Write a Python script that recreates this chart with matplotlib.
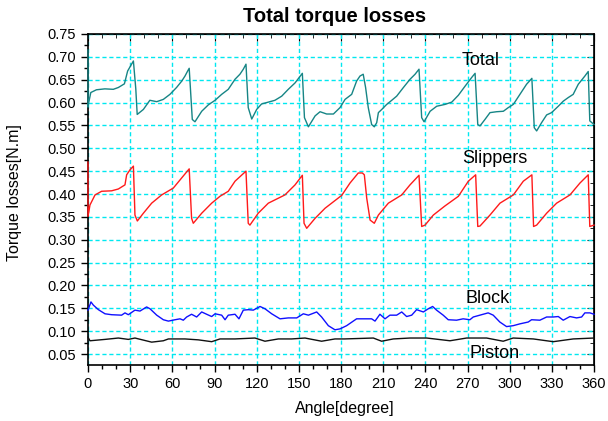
import matplotlib
matplotlib.use("Agg")
import matplotlib.pyplot as plt
from matplotlib.ticker import MultipleLocator
import numpy as np

plt.rcParams['font.family'] = ['Liberation Sans', 'DejaVu Sans']

# ---- data ----
total_angle = [0, 0.01, 0.5, 2, 6, 12, 18, 21.6, 25.9, 28.2, 32.3, 34, 35, 39.4, 44, 48.9, 53.6, 58.3,
               63, 66.7, 69, 70.9, 72, 74.2, 76.1, 80.9, 85.6, 90.4, 95.1, 99.8, 104.6, 108.1, 110.5,
               112.4, 114, 116.5, 120, 123.5, 128.3, 133, 137.8, 142.5, 147.3, 152.5, 154, 156.8,
               161.6, 165.1, 169.8, 174.6, 179.3, 182.9, 187.6, 191.1, 193.5, 195.8, 197.5, 199.4,
               201.8, 203.7, 205.4, 206.6, 209, 212.5, 216.1, 219.6, 224.4, 229.1, 232.7, 235.5,
               237.4, 239.1, 243.4, 248.1, 254, 258.8, 263.5, 268.3, 273, 275.4, 277.3, 278.9,
               282.4, 286, 290.7, 295.5, 299, 302.6, 307.3, 312, 315.8, 317.5, 319.2, 322.7, 326.3,
               329.8, 334.6, 338.1, 341.7, 345.2, 348.8, 353.5, 355.9, 357, 360]
total_val = [0.715, 0.59, 0.60, 0.622, 0.628, 0.630, 0.629, 0.633, 0.641, 0.669, 0.691, 0.63, 0.574,
             0.585, 0.605, 0.602, 0.607, 0.618, 0.633, 0.647, 0.658, 0.669, 0.675, 0.563, 0.558,
             0.581, 0.595, 0.605, 0.618, 0.629, 0.651, 0.662, 0.673, 0.684, 0.589, 0.564, 0.585,
             0.597, 0.601, 0.605, 0.614, 0.629, 0.643, 0.664, 0.567, 0.547, 0.571, 0.580, 0.575,
             0.575, 0.589, 0.607, 0.618, 0.647, 0.658, 0.662, 0.633, 0.589, 0.552, 0.547, 0.556,
             0.578, 0.585, 0.596, 0.605, 0.614, 0.633, 0.651, 0.662, 0.673, 0.567, 0.558, 0.581,
             0.592, 0.596, 0.601, 0.616, 0.636, 0.655, 0.664, 0.552, 0.549, 0.563, 0.578, 0.580,
             0.581, 0.589, 0.596, 0.618, 0.640, 0.653, 0.545, 0.538, 0.556, 0.573, 0.578, 0.592,
             0.603, 0.611, 0.618, 0.640, 0.658, 0.668, 0.560, 0.552]

slip_angle = [0, 0.01, 1.4, 5, 9.7, 16.8, 21.6, 26.3, 27.5, 29.9, 32.3, 33.4, 35.1, 39.4, 45.3, 52.4,
              60.7, 66.6, 72, 73.7, 74.9, 80.9, 88, 93.9, 99.8, 104.6, 112.4, 114, 115.2, 121.1,
              128.3, 140.1, 147.3, 152.5, 153.7, 155.6, 161.6, 168.7, 180.5, 186.4, 192.3, 195.2,
              196.6, 198.3, 200.7, 203.7, 206.6, 213.7, 223.2, 229.1, 235.5, 237.4, 239.8, 245.7,
              254, 263.5, 270.6, 275.8, 277.3, 278.9, 286, 293.1, 302.6, 309.7, 315.8, 317,
              319.2, 326.3, 333.4, 342.9, 350, 355.9, 357, 360]
slip_val = [0.470, 0.351, 0.376, 0.398, 0.406, 0.407, 0.411, 0.420, 0.442, 0.453, 0.461, 0.354,
            0.341, 0.358, 0.380, 0.398, 0.413, 0.435, 0.455, 0.347, 0.336, 0.358, 0.380, 0.395,
            0.406, 0.428, 0.450, 0.336, 0.332, 0.358, 0.380, 0.398, 0.420, 0.441, 0.336, 0.325,
            0.347, 0.369, 0.397, 0.424, 0.446, 0.446, 0.442, 0.391, 0.343, 0.336, 0.354, 0.380,
            0.398, 0.420, 0.441, 0.329, 0.332, 0.354, 0.374, 0.395, 0.428, 0.442, 0.329, 0.330,
            0.354, 0.380, 0.398, 0.428, 0.442, 0.329, 0.332, 0.358, 0.380, 0.398, 0.424, 0.442,
            0.329, 0.332]

block_angle = [0, 2.1, 3.8, 7.4, 12.1, 16.8, 23.9, 26.3, 28.7, 33.4, 37, 41.7, 44.1, 48.9, 53.6,
               57.2, 61.9, 65.5, 67.8, 70.2, 73.7, 77.3, 80.9, 84.4, 88, 90.4, 95.1, 97.5, 99.8,
               104.6, 107.4, 110.5, 114.1, 117.6, 122.4, 125.9, 130.7, 136.6, 142.5, 148.5, 153.2,
               156.8, 162.7, 166.2, 171, 175.7, 179.3, 184, 191.1, 201.8, 204.2, 207.7, 211.3,
               214.8, 219.6, 223.2, 226.7, 230.3, 233.8, 238.6, 242.1, 245.2, 248, 252.7, 256.3,
               262.2, 266.9, 271.7, 274.1, 278.8, 284.7, 288.3, 293, 297.8, 302.5, 307.3, 313.2,
               315.6, 321.5, 326.3, 331, 334.6, 338.1, 342.9, 347.6, 351.2, 353.5, 357.1, 360]
block_val = [0.146, 0.164, 0.157, 0.147, 0.138, 0.136, 0.135, 0.140, 0.136, 0.146, 0.144, 0.153,
             0.149, 0.135, 0.125, 0.122, 0.125, 0.127, 0.124, 0.131, 0.137, 0.131, 0.142, 0.137,
             0.132, 0.138, 0.135, 0.125, 0.135, 0.137, 0.127, 0.146, 0.147, 0.146, 0.154, 0.149,
             0.138, 0.127, 0.129, 0.129, 0.138, 0.135, 0.142, 0.131, 0.112, 0.103, 0.105, 0.112,
             0.127, 0.127, 0.122, 0.137, 0.127, 0.135, 0.135, 0.142, 0.132, 0.135, 0.147, 0.142,
             0.149, 0.154, 0.146, 0.135, 0.125, 0.124, 0.127, 0.125, 0.131, 0.135, 0.140, 0.135,
             0.120, 0.110, 0.112, 0.116, 0.120, 0.125, 0.124, 0.131, 0.131, 0.132, 0.124, 0.132,
             0.129, 0.131, 0.140, 0.140, 0.137]

piston_angle = [0, 1.4, 12.1, 21.6, 28.7, 33.4, 45.3, 53.6, 57.2, 69, 78.5, 88, 93.9, 104.6, 118.8,
                125.9, 135.4, 144.9, 154.4, 166.2, 175.7, 182.4, 203, 208.9, 217.2, 229.1, 241,
                257.5, 269.4, 283.6, 295.4, 302.5, 316.8, 331, 345.2, 360]
piston_val = [0.087, 0.079, 0.082, 0.085, 0.082, 0.085, 0.076, 0.079, 0.083, 0.083, 0.081, 0.077,
              0.083, 0.083, 0.085, 0.078, 0.083, 0.083, 0.085, 0.078, 0.083, 0.083, 0.085, 0.078,
              0.083, 0.085, 0.085, 0.079, 0.085, 0.085, 0.078, 0.085, 0.083, 0.077, 0.083, 0.085]

x_ticks = [0, 30, 60, 90, 120, 150, 180, 210, 240, 270, 300, 330, 360]
y_ticks = [0.05, 0.10, 0.15, 0.20, 0.25, 0.30, 0.35, 0.40, 0.45, 0.50, 0.55, 0.60, 0.65, 0.70, 0.75]

# ---- figure ----
fig = plt.figure(figsize=(6.08, 4.21), dpi=100)
ax = fig.add_axes([88/608, 1-365/421, 506/608, 331/421])

ax.plot(total_angle, total_val, color='#168585', lw=1.0, zorder=3, clip_on=False)
ax.plot(slip_angle, slip_val, color='#ff1a1a', lw=1.0, zorder=3, clip_on=False)
ax.plot(block_angle, block_val, color='#1010ff', lw=1.0, zorder=3, clip_on=False)
ax.plot(piston_angle, piston_val, color='#111111', lw=1.0, zorder=3, clip_on=False)

ax.set_xlim(0, 360)
ax.set_ylim(0.026, 0.75)
ax.set_xticks(x_ticks)
ax.set_yticks(y_ticks)
ax.set_yticklabels([f"{v:.2f}" for v in y_ticks])
ax.xaxis.set_minor_locator(MultipleLocator(10))
ax.yaxis.set_minor_locator(MultipleLocator(0.025))
ax.tick_params(axis='both', which='both', labelsize=10.5, width=1.0)
ax.tick_params(axis='both', which='major', length=5, direction='out')
ax.tick_params(axis='both', which='minor', length=3, direction='out')
ax.grid(True, which='major', color='#00e8f0', linestyle=(0, (3, 2)), lw=1.0)

# mirrored inward ticks on top/right
axt = ax.secondary_xaxis('top')
axt.set_xticks(x_ticks)
axt.xaxis.set_minor_locator(MultipleLocator(10))
axt.tick_params(which='major', direction='in', length=5, labeltop=False)
axt.tick_params(which='minor', direction='in', length=3)
axt.set_xticklabels([])
axr = ax.secondary_yaxis('right')
axr.set_yticks(y_ticks)
axr.yaxis.set_minor_locator(MultipleLocator(0.025))
axr.tick_params(which='major', direction='in', length=5)
axr.tick_params(which='minor', direction='in', length=3)
axr.set_yticklabels([])

for s in ax.spines.values():
    s.set_linewidth(1.2)

fig.text(345/608, 1-408/421, "Angle[degree]", ha='center', va='center', fontsize=11.5)
fig.text(15/608, 1-193/421, "Torque losses[N.m]", ha='center', va='center',
         rotation=90, fontsize=11.5)
fig.text(335/608, 1-16/421, "Total torque losses", ha='center', va='center',
         fontsize=14.5, fontweight='bold')

ax.text(279, 0.691, "Total", fontsize=13, ha='center', va='center')
ax.text(289.2, 0.477, "Slippers", fontsize=13, ha='center', va='center')
ax.text(284.6, 0.171, "Block", fontsize=13, ha='center', va='center')
ax.text(289, 0.052, "Piston", fontsize=13, ha='center', va='center')

fig.savefig("out.png", dpi=100)
